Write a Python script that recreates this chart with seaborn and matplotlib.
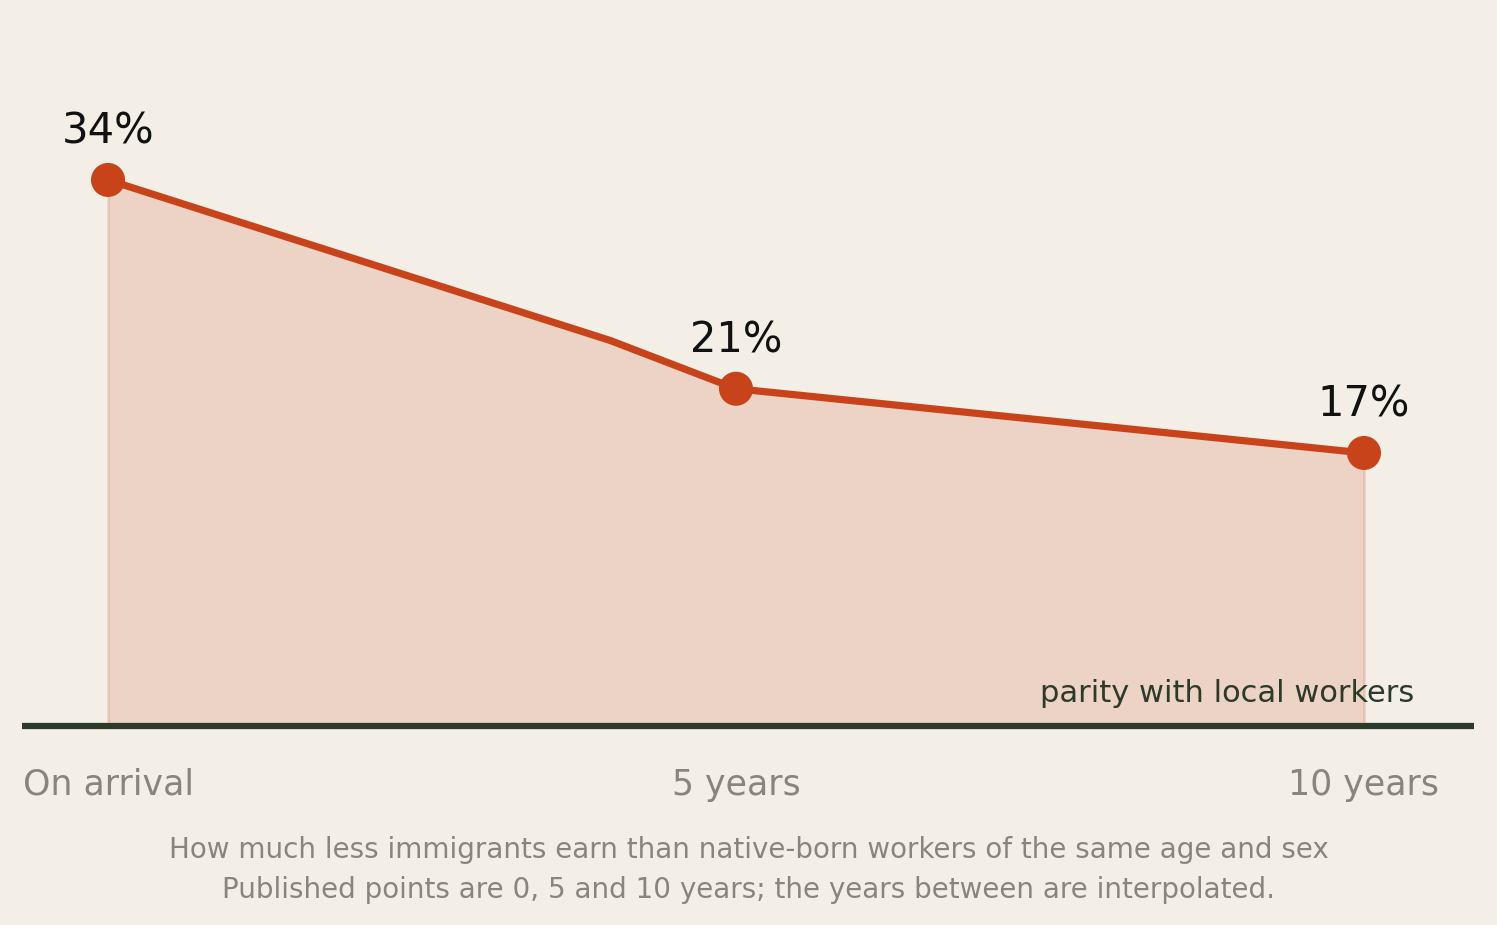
import numpy as np
import pandas as pd
import seaborn as sns
import matplotlib.pyplot as plt

# valores (anos desde a chegada, diferença salarial em %)
anos = [0, 4, 5, 10]
diferenca = [34, 24, 21, 17]
anos_publicados = [0, 5, 10]
diferenca_publicada = [34, 21, 17]
rotulos_x = ['On arrival', '5 years', '10 years']
rotulos_pontos = ['34%', '21%', '17%']

fundo = '#f3efe7'
laranja = '#c8431a'
verde = '#2b3a29'
cinza = '#8a857a'

sns.set_theme(style='white', rc={'figure.facecolor': fundo, 'axes.facecolor': fundo})
plt.rcParams['font.family'] = ['DejaVu Sans']

df = pd.DataFrame({'ano': anos, 'gap': diferenca})
df_pub = pd.DataFrame({'ano': anos_publicados, 'gap': diferenca_publicada})

fig = plt.figure(figsize=(14.97, 9.25), dpi=100)
ax = fig.add_axes([22 / 1497, (925 - 726) / 925, (1474 - 22) / 1497, (726 - 20) / 925])

# área sombreada sob a linha
ax.fill_between(df['ano'], df['gap'], 0, color=laranja, alpha=0.16, linewidth=2, zorder=1)
sns.lineplot(data=df, x='ano', y='gap', color=laranja, linewidth=5.2, ax=ax, zorder=3,
             solid_capstyle='round')
sns.scatterplot(data=df_pub, x='ano', y='gap', color=laranja, s=600, edgecolor='none',
                ax=ax, zorder=4)

for x, y, txt in zip(anos_publicados, diferenca_publicada, rotulos_pontos):
    ax.annotate(txt, (x, y), xytext=(0, 26), textcoords='offset points',
                ha='center', va='baseline', fontsize=30, color='#111111')

ax.axhline(0, color=verde, linewidth=4.5, zorder=5, clip_on=False, solid_capstyle='butt')
ax.text(10.4, 1.5, 'parity with local workers', ha='right', va='baseline',
        fontsize=22, color=verde)

ax.set_xlim(-0.685, 10.876)
ax.set_ylim(0, 43.96)
ax.set_xticks(anos_publicados)
ax.set_xticklabels(rotulos_x, fontsize=25, color=cinza)
ax.tick_params(axis='x', length=0, pad=30)
ax.set_yticks([])
ax.set_xlabel('')
ax.set_ylabel('')
sns.despine(ax=ax, left=True, bottom=True)

fig.text(0.5, 1 - 850 / 925, 'How much less immigrants earn than native-born workers of the same age and sex',
         ha='center', va='center', fontsize=20, color=cinza)
fig.text(0.5, 1 - 890 / 925, 'Published points are 0, 5 and 10 years; the years between are interpolated.',
         ha='center', va='center', fontsize=20, color=cinza)

fig.savefig('out.png', dpi=100, facecolor=fundo)
